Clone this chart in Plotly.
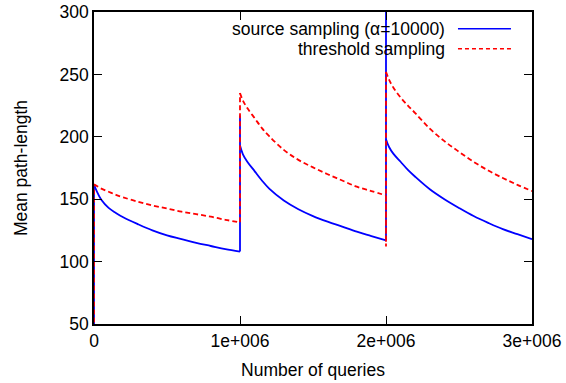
import plotly.graph_objects as go

# ---- data (x offsets within each 1e6-query block, in millions) ----
offsets = [0, 0.02, 0.05, 0.1, 0.15, 0.2, 0.3, 0.4, 0.5, 0.6, 0.7, 0.8, 0.9, 1.0]
block_starts = [0, 1, 2]  # millions

blue_seg1 = [162, 156, 149.5, 143, 139, 135.5, 130, 125, 121, 118, 115, 112.5, 110, 108]
blue_seg2 = [193, 186, 180, 172.5, 165, 158.5, 149, 142, 136.5, 132, 128, 124, 120.5, 117]
blue_seg3 = [198, 192, 186.5, 180, 173.5, 168, 158, 150, 143, 136.5, 131, 126, 122, 118]
blue_start = 0
blue_block_peaks = [None, 217, 305]   # transient spike at each block start

red_seg1 = [162, 160.5, 158.5, 156, 153.5, 151.5, 148, 145, 142.5, 140, 138, 136, 133.5, 131.5]
red_seg2 = [235, 229, 223, 215, 207, 200.5, 189.5, 181.5, 175.5, 170, 165, 160, 156.5, 153]
red_seg3 = [252, 246, 239.5, 231.5, 225, 219, 206.5, 196.5, 188, 180, 173, 167, 161.5, 156.5]
red_start = 0
red_block_dips = [None, None, 112]

series_names = ["source sampling (\u03b1=10000)", "threshold sampling"]
x_tickvals = [0, 1e6, 2e6, 3e6]
x_ticktext = ["0", "1e+006", "2e+006", "3e+006"]
y_tickvals = [50, 100, 150, 200, 250, 300]


def build_curves(segs):
    """Decay curves of each block, separated by gaps."""
    xs, ys = [], []
    for b, seg in zip(block_starts, segs):
        for o, v in zip(offsets, seg):
            xs.append((b + o) * 1e6)
            ys.append(v)
        xs.append(None)
        ys.append(None)
    return xs, ys


def build_jumps(start_val, segs, extras):
    """Vertical transitions at each block start."""
    xs, ys = [], []
    prev_end = start_val
    for b, seg, extra in zip(block_starts, segs, extras):
        pts = [prev_end] + ([extra] if extra is not None else []) + [seg[0]]
        for v in pts:
            xs.append(b * 1e6)
            ys.append(v)
        xs.append(None)
        ys.append(None)
        prev_end = seg[-1]
    return xs, ys


FONT = "Liberation Sans, Arial, sans-serif"
FS = 17.5
BLUE = "#0000ff"
RED = "#ff0000"

blue_segs = [blue_seg1, blue_seg2, blue_seg3]
red_segs = [red_seg1, red_seg2, red_seg3]

fig = go.Figure()
for segs, start, extras, name, line in [
    (blue_segs, blue_start, blue_block_peaks, series_names[0], dict(color=BLUE, width=1.8)),
    (red_segs, red_start, red_block_dips, series_names[1], dict(color=RED, width=1.8, dash="5px,3px")),
]:
    jx, jy = build_jumps(start, segs, extras)
    fig.add_trace(go.Scatter(x=jx, y=jy, mode="lines", name=name, line=line,
                             showlegend=False, connectgaps=False))
    cx, cy = build_curves(segs)
    fig.add_trace(go.Scatter(x=cx, y=cy, mode="lines", name=name,
                             line=dict(shape="spline", smoothing=1.0, **line),
                             showlegend=False, connectgaps=False))

# gnuplot-style key: text right-aligned, sample line to the right
key_rows = [0.9465, 0.882]
key_styles = [dict(color=BLUE, width=1.5), dict(color=RED, width=1.5, dash="4px,3px")]
for name, yr, st in zip(series_names, key_rows, key_styles):
    fig.add_annotation(x=0.806, y=yr, xref="paper", yref="paper", text=name,
                       showarrow=False, xanchor="right", yanchor="middle",
                       font=dict(family=FONT, size=FS, color="black"))
    fig.add_shape(type="line", xref="paper", yref="paper", x0=0.831, x1=0.952,
                  y0=yr, y1=yr, line=st)

axis_common = dict(showline=True, linecolor="black", linewidth=1.5, mirror="ticks",
                   ticks="inside", ticklen=8, tickwidth=1, tickcolor="black",
                   showgrid=False, zeroline=False, automargin=False,
                   tickfont=dict(family=FONT, size=FS, color="black"))

fig.update_layout(
    width=566, height=383,
    margin=dict(l=94, r=34, t=12, b=59),
    paper_bgcolor="white", plot_bgcolor="white",
    font=dict(family=FONT, size=FS, color="black"),
    xaxis=dict(range=[0, 3e6], tickvals=x_tickvals, ticktext=x_ticktext,
               title=dict(text="Number of queries", font=dict(family=FONT, size=FS), standoff=14),
               **axis_common),
    yaxis=dict(range=[50, 300], tickvals=y_tickvals,
               title=dict(text="Mean path-length", font=dict(family=FONT, size=FS), standoff=27),
               **axis_common),
)

fig.write_html("out.html")
